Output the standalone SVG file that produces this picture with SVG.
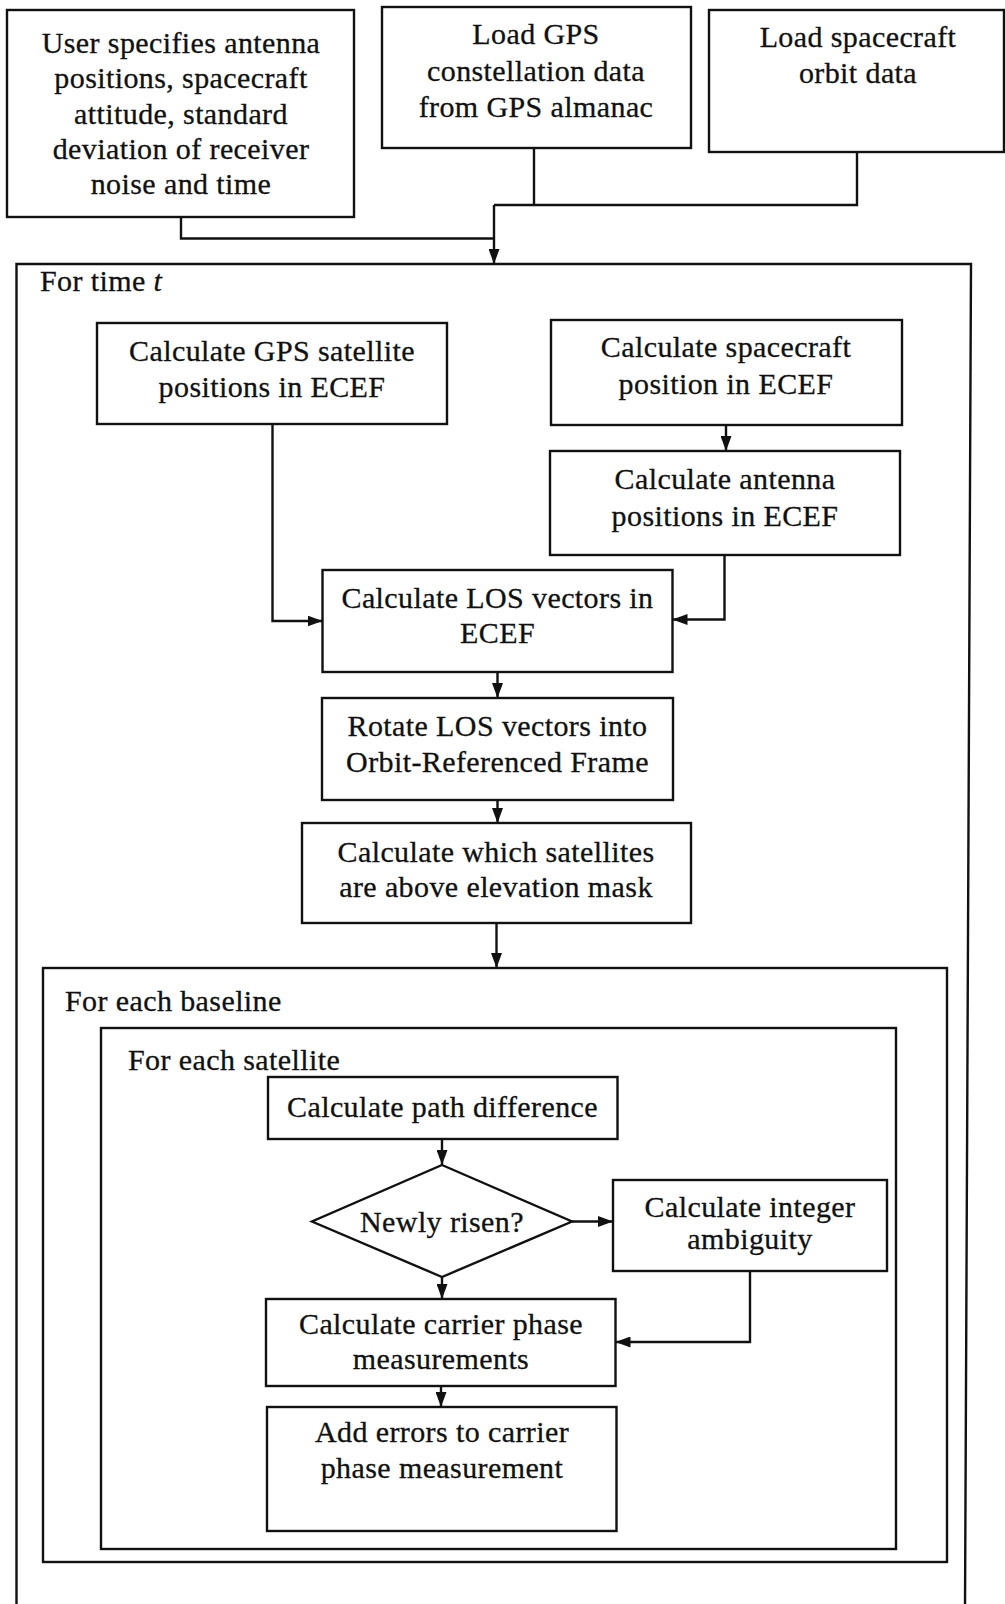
<svg xmlns="http://www.w3.org/2000/svg" width="1005" height="1604" viewBox="0 0 1005 1604">
  <style>
    .box { fill: #fff; stroke: #111; stroke-width: 2.4; }
    .frame { fill: none; stroke: #111; stroke-width: 2.4; }
    .wire { fill: none; stroke: #111; stroke-width: 2.4; }
    text { font-family: "Liberation Serif", "Times New Roman", serif; font-size: 30px; fill: #111; stroke: #111; stroke-width: 0.3px; letter-spacing: 0.4px; }
    .c { text-anchor: middle; }
  </style>
  <defs>
    <marker id="arrow" markerUnits="userSpaceOnUse" markerWidth="15" markerHeight="11" refX="15" refY="5.5" orient="auto">
      <path d="M0,0 L15,5.5 L0,11 z" fill="#111"/>
    </marker>
  </defs>

  <rect width="1005" height="1604" fill="#fff"/>

  <!-- loop containers -->
  <g id="loop-time">
    <path class="frame" d="M16.5,1610 L16.5,264 L971,264 L965,1610"/>
    <text x="40" y="291">For time <tspan font-style="italic">t</tspan></text>
  </g>
  <g id="loop-baseline">
    <rect class="frame" x="43" y="968" width="904" height="594"/>
    <text x="65" y="1011">For each baseline</text>
  </g>
  <g id="loop-satellite">
    <rect class="frame" x="101" y="1028" width="795" height="521"/>
    <text x="128" y="1070">For each satellite</text>
  </g>

  <!-- inputs -->
  <g id="user-input">
    <rect class="box" x="7" y="10" width="347" height="207"/>
    <text class="c" x="181" y="53">User specifies antenna</text>
    <text class="c" x="181" y="88">positions, spacecraft</text>
    <text class="c" x="181" y="124">attitude, standard</text>
    <text class="c" x="181" y="159">deviation of receiver</text>
    <text class="c" x="181" y="194">noise and time</text>
  </g>
  <g id="load-gps">
    <rect class="box" x="382" y="7" width="309" height="141"/>
    <text class="c" x="536" y="44">Load GPS</text>
    <text class="c" x="536" y="81">constellation data</text>
    <text class="c" x="536" y="117">from GPS almanac</text>
  </g>
  <g id="load-orbit">
    <rect class="box" x="709" y="10" width="295" height="142"/>
    <text class="c" x="858" y="47">Load spacecraft</text>
    <text class="c" x="858" y="83">orbit data</text>
  </g>

  <!-- per-epoch steps -->
  <g id="gps-positions">
    <rect class="box" x="97" y="323" width="350" height="101"/>
    <text class="c" x="272" y="361">Calculate GPS satellite</text>
    <text class="c" x="272" y="397">positions in ECEF</text>
  </g>
  <g id="sc-position">
    <rect class="box" x="551" y="320" width="351" height="105"/>
    <text class="c" x="726" y="357">Calculate spacecraft</text>
    <text class="c" x="726" y="394">position in ECEF</text>
  </g>
  <g id="antenna-positions">
    <rect class="box" x="550" y="451" width="350" height="104"/>
    <text class="c" x="725" y="489">Calculate antenna</text>
    <text class="c" x="725" y="526">positions in ECEF</text>
  </g>
  <g id="los-ecef">
    <rect class="box" x="322.5" y="570" width="350" height="102"/>
    <text class="c" x="497.5" y="608">Calculate LOS vectors in</text>
    <text class="c" x="497.5" y="643">ECEF</text>
  </g>
  <g id="los-orf">
    <rect class="box" x="322" y="698" width="351" height="102"/>
    <text class="c" x="497.5" y="736">Rotate LOS vectors into</text>
    <text class="c" x="497.5" y="772">Orbit-Referenced Frame</text>
  </g>
  <g id="visible-sats">
    <rect class="box" x="302" y="823" width="389" height="100"/>
    <text class="c" x="496" y="862">Calculate which satellites</text>
    <text class="c" x="496" y="897">are above elevation mask</text>
  </g>

  <!-- per-satellite steps -->
  <g id="path-difference">
    <rect class="box" x="268" y="1077" width="349.5" height="62"/>
    <text class="c" x="442.5" y="1117">Calculate path difference</text>
  </g>
  <g id="newly-risen">
    <path class="box" d="M442,1165 L572,1221.5 L442,1277 L312,1221.5 z"/>
    <text class="c" x="442" y="1232">Newly risen?</text>
  </g>
  <g id="integer-ambiguity">
    <rect class="box" x="613" y="1180" width="274" height="91"/>
    <text class="c" x="750" y="1217">Calculate integer</text>
    <text class="c" x="750" y="1249">ambiguity</text>
  </g>
  <g id="carrier-phase">
    <rect class="box" x="266" y="1299" width="349.5" height="87"/>
    <text class="c" x="441" y="1334">Calculate carrier phase</text>
    <text class="c" x="441" y="1369">measurements</text>
  </g>
  <g id="add-errors">
    <rect class="box" x="267" y="1407" width="349.5" height="124"/>
    <text class="c" x="442" y="1442">Add errors to carrier</text>
    <text class="c" x="442" y="1478">phase measurement</text>
  </g>

  <!-- connectors -->
  <g id="connectors">
    <path class="wire" d="M181,217 V238.5 H494"/>
    <path class="wire" d="M857,152 V205 H494"/>
    <path class="wire" d="M534,148 V205"/>
    <path class="wire" d="M494,205 V264" marker-end="url(#arrow)"/>
    <path class="wire" d="M272.5,424 V621 H322.5" marker-end="url(#arrow)"/>
    <path class="wire" d="M726,425 V451" marker-end="url(#arrow)"/>
    <path class="wire" d="M724.5,555 V619.5 H672.5" marker-end="url(#arrow)"/>
    <path class="wire" d="M497.5,672 V698" marker-end="url(#arrow)"/>
    <path class="wire" d="M497.5,800 V823" marker-end="url(#arrow)"/>
    <path class="wire" d="M496.5,923 V968" marker-end="url(#arrow)"/>
    <path class="wire" d="M442,1139 V1165" marker-end="url(#arrow)"/>
    <path class="wire" d="M572,1221.5 H613" marker-end="url(#arrow)"/>
    <path class="wire" d="M442,1277 V1299" marker-end="url(#arrow)"/>
    <path class="wire" d="M750,1271 V1342 H615.5" marker-end="url(#arrow)"/>
    <path class="wire" d="M441,1386 V1407" marker-end="url(#arrow)"/>
  </g>
</svg>
